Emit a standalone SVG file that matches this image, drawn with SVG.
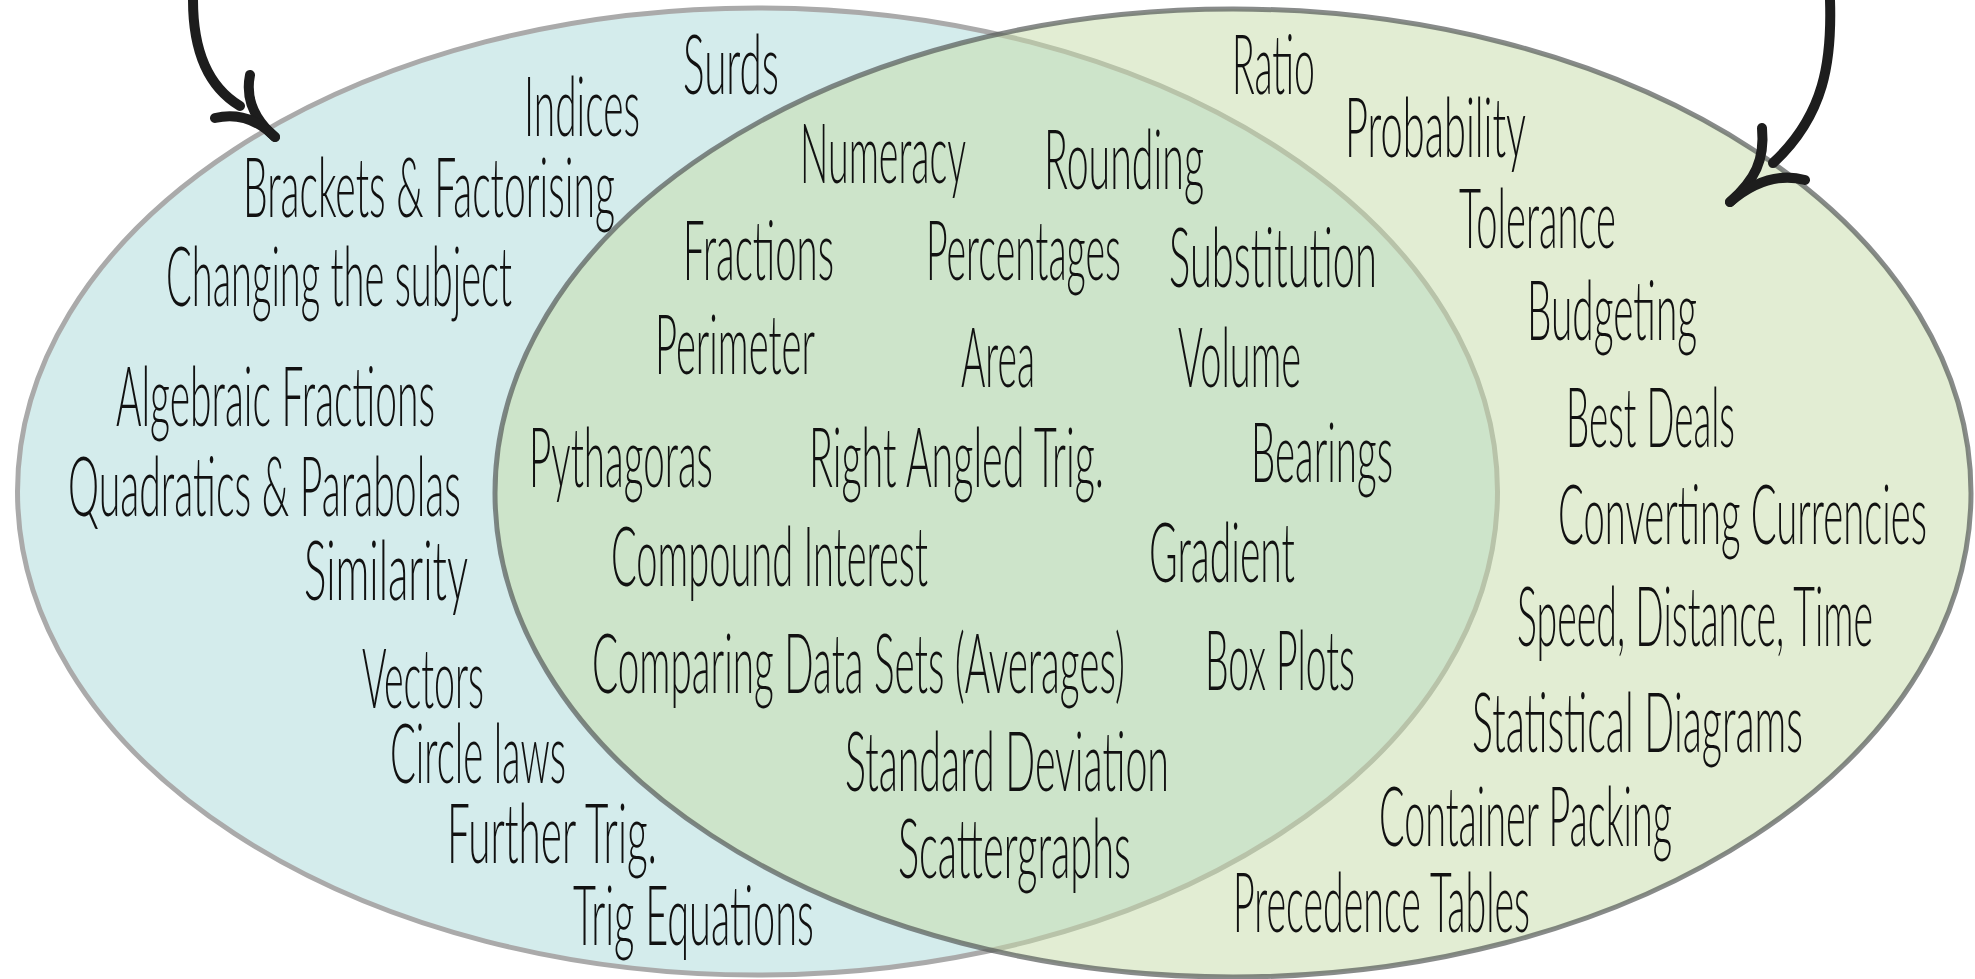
<svg xmlns="http://www.w3.org/2000/svg" width="1975" height="979" viewBox="0 0 1975 979">
<style>
.lbl{font-family:Lato,"Liberation Sans",sans-serif;font-weight:300;font-size:82px;fill:#111111;}
.arr{fill:none;stroke:#1d1d1d;stroke-width:10;stroke-linecap:round;stroke-linejoin:round;}
</style>
<rect width="1975" height="979" fill="#ffffff"/>
<g id="set-left">
<ellipse cx="757.5" cy="491.5" rx="740" ry="483.5" fill="#d4ecec" stroke="#aaaaaa" stroke-width="5"/>
</g>
<g id="set-right">
<ellipse cx="1233" cy="493" rx="738" ry="484" fill="#c5dba7" fill-opacity="0.5" stroke="#555a58" stroke-opacity="0.7" stroke-width="5"/>
</g>
<g id="labels-left">
<g id="n-surds"><text class="lbl" x="683" y="94" textLength="96" lengthAdjust="spacingAndGlyphs">Surds</text></g>
<g id="n-indices"><text class="lbl" x="524" y="136" textLength="116" lengthAdjust="spacingAndGlyphs">Indices</text></g>
<g id="n-brackets"><text class="lbl" x="243" y="217" textLength="372" lengthAdjust="spacingAndGlyphs">Brackets &amp; Factorising</text></g>
<g id="n-changing"><text class="lbl" x="166" y="306" textLength="346" lengthAdjust="spacingAndGlyphs">Changing the subject</text></g>
<g id="n-algfrac"><text class="lbl" x="116" y="426" textLength="319" lengthAdjust="spacingAndGlyphs">Algebraic Fractions</text></g>
<g id="n-quadratics"><text class="lbl" x="68" y="516" textLength="393" lengthAdjust="spacingAndGlyphs">Quadratics &amp; Parabolas</text></g>
<g id="n-similarity"><text class="lbl" x="304" y="600" textLength="164" lengthAdjust="spacingAndGlyphs">Similarity</text></g>
<g id="n-vectors"><text class="lbl" x="362" y="708" textLength="122" lengthAdjust="spacingAndGlyphs">Vectors</text></g>
<g id="n-circle"><text class="lbl" x="390" y="783" textLength="176" lengthAdjust="spacingAndGlyphs">Circle laws</text></g>
<g id="n-furthertrig"><text class="lbl" x="447" y="863" textLength="210" lengthAdjust="spacingAndGlyphs">Further Trig.</text></g>
<g id="n-trigeq"><text class="lbl" x="573" y="945" textLength="241" lengthAdjust="spacingAndGlyphs">Trig Equations</text></g>
</g>
<g id="labels-both">
<g id="n-numeracy"><text class="lbl" x="800" y="183" textLength="166" lengthAdjust="spacingAndGlyphs">Numeracy</text></g>
<g id="n-rounding"><text class="lbl" x="1044" y="189" textLength="160" lengthAdjust="spacingAndGlyphs">Rounding</text></g>
<g id="n-fractions"><text class="lbl" x="683" y="280" textLength="151" lengthAdjust="spacingAndGlyphs">Fractions</text></g>
<g id="n-percentages"><text class="lbl" x="926" y="280" textLength="195" lengthAdjust="spacingAndGlyphs">Percentages</text></g>
<g id="n-substitution"><text class="lbl" x="1169" y="287" textLength="208" lengthAdjust="spacingAndGlyphs">Substitution</text></g>
<g id="n-perimeter"><text class="lbl" x="655" y="374" textLength="160" lengthAdjust="spacingAndGlyphs">Perimeter</text></g>
<g id="n-area"><text class="lbl" x="961" y="387" textLength="74" lengthAdjust="spacingAndGlyphs">Area</text></g>
<g id="n-volume"><text class="lbl" x="1178" y="387" textLength="123" lengthAdjust="spacingAndGlyphs">Volume</text></g>
<g id="n-pythagoras"><text class="lbl" x="529" y="487" textLength="184" lengthAdjust="spacingAndGlyphs">Pythagoras</text></g>
<g id="n-ratrig"><text class="lbl" x="809" y="487" textLength="295" lengthAdjust="spacingAndGlyphs">Right Angled Trig.</text></g>
<g id="n-bearings"><text class="lbl" x="1251" y="482" textLength="142" lengthAdjust="spacingAndGlyphs">Bearings</text></g>
<g id="n-compound"><text class="lbl" x="611" y="586" textLength="317" lengthAdjust="spacingAndGlyphs">Compound Interest</text></g>
<g id="n-gradient"><text class="lbl" x="1149" y="582" textLength="146" lengthAdjust="spacingAndGlyphs">Gradient</text></g>
<g id="n-comparing"><text class="lbl" x="592" y="693" textLength="533" lengthAdjust="spacingAndGlyphs">Comparing Data Sets (Averages)</text></g>
<g id="n-boxplots"><text class="lbl" x="1205" y="690" textLength="150" lengthAdjust="spacingAndGlyphs">Box Plots</text></g>
<g id="n-stddev"><text class="lbl" x="845" y="791" textLength="324" lengthAdjust="spacingAndGlyphs">Standard Deviation</text></g>
<g id="n-scatter"><text class="lbl" x="898" y="878" textLength="233" lengthAdjust="spacingAndGlyphs">Scattergraphs</text></g>
</g>
<g id="labels-right">
<g id="n-ratio"><text class="lbl" x="1232" y="94" textLength="83" lengthAdjust="spacingAndGlyphs">Ratio</text></g>
<g id="n-probability"><text class="lbl" x="1345" y="157" textLength="181" lengthAdjust="spacingAndGlyphs">Probability</text></g>
<g id="n-tolerance"><text class="lbl" x="1459" y="248" textLength="157" lengthAdjust="spacingAndGlyphs">Tolerance</text></g>
<g id="n-budgeting"><text class="lbl" x="1527" y="340" textLength="170" lengthAdjust="spacingAndGlyphs">Budgeting</text></g>
<g id="n-bestdeals"><text class="lbl" x="1566" y="447" textLength="169" lengthAdjust="spacingAndGlyphs">Best Deals</text></g>
<g id="n-currencies"><text class="lbl" x="1558" y="544" textLength="369" lengthAdjust="spacingAndGlyphs">Converting Currencies</text></g>
<g id="n-sdt"><text class="lbl" x="1517" y="646" textLength="356" lengthAdjust="spacingAndGlyphs">Speed, Distance, Time</text></g>
<g id="n-statdiag"><text class="lbl" x="1472" y="752" textLength="331" lengthAdjust="spacingAndGlyphs">Statistical Diagrams</text></g>
<g id="n-container"><text class="lbl" x="1379" y="846" textLength="293" lengthAdjust="spacingAndGlyphs">Container Packing</text></g>
<g id="n-precedence"><text class="lbl" x="1233" y="932" textLength="297" lengthAdjust="spacingAndGlyphs">Precedence Tables</text></g>
</g>
<g id="connectors">
<path class="arr" d="M193,0 C193,45 205,85 240,106"/>
<path class="arr" d="M250,75 C245,100 255,120 275,137"/>
<path class="arr" d="M215,118 C240,112 260,122 275,137"/>
<path class="arr" d="M1830,0 C1832,60 1825,115 1773,163"/>
<path class="arr" d="M1762,128 C1765,160 1755,180 1730,202"/>
<path class="arr" d="M1805,180 C1775,172 1750,185 1730,202"/>
</g>
</svg>
